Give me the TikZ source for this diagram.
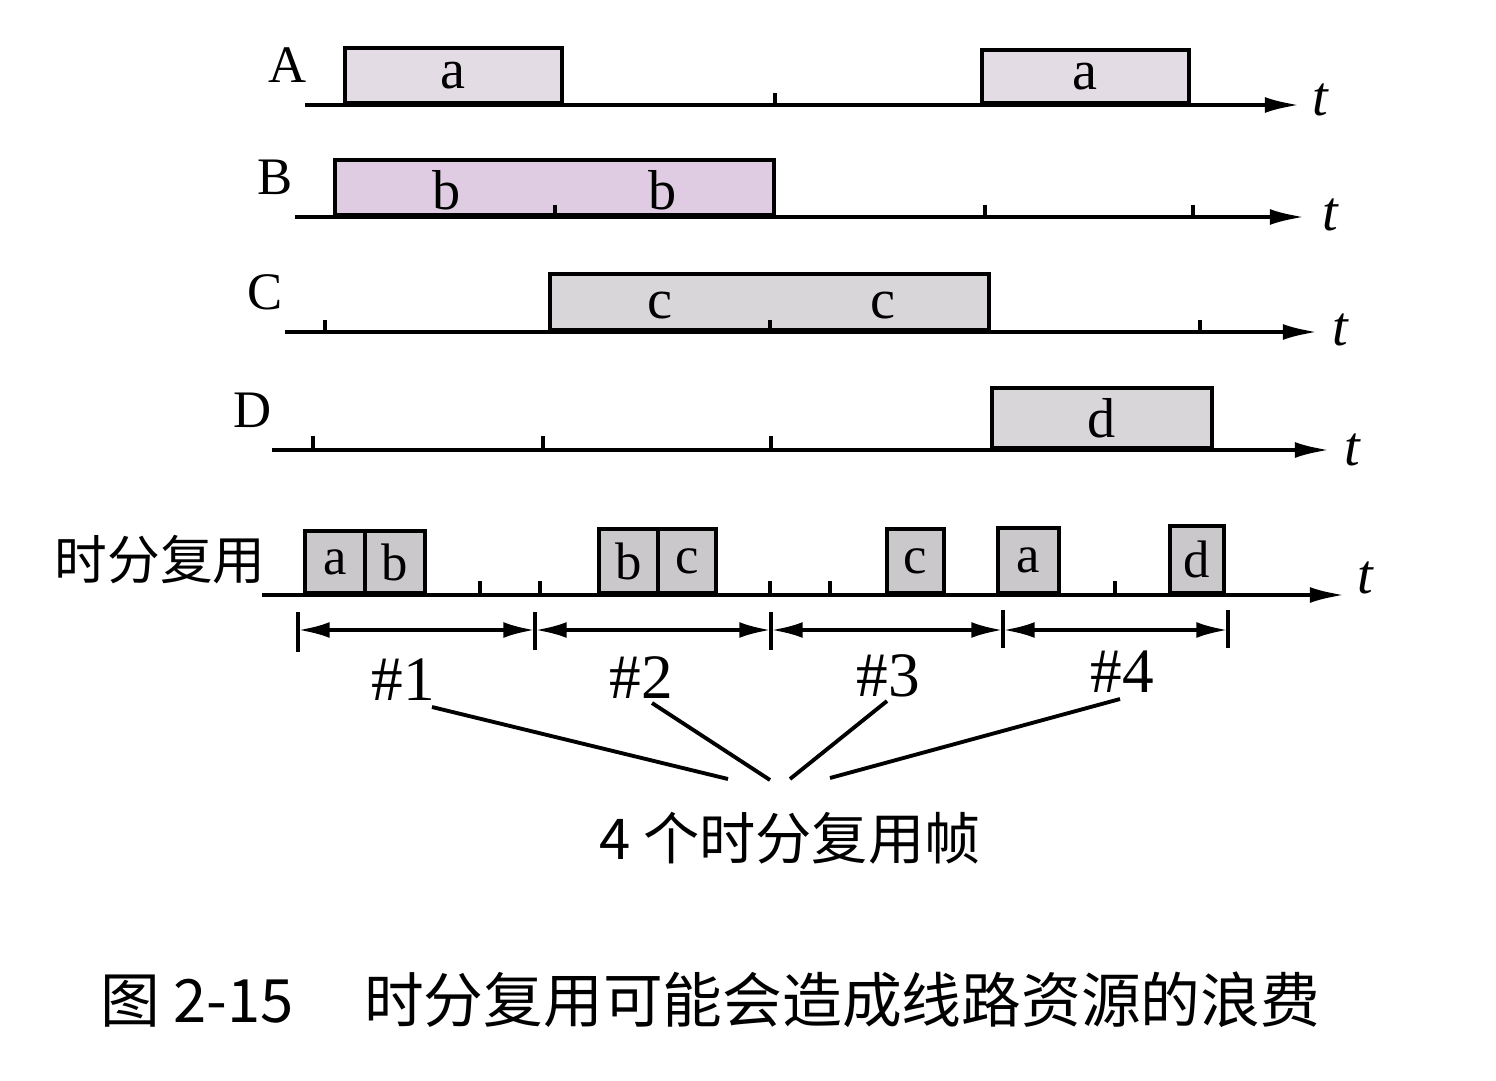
\documentclass[tikz,border=0pt]{standalone}
\usepackage{fontspec}
\setmainfont{Liberation Serif}
\newfontfamily\cjk{Noto Sans CJK SC}
\usetikzlibrary{arrows.meta}

\definecolor{slotpink}{RGB}{228,220,228}
\definecolor{slotlilac}{RGB}{224,204,226}
\definecolor{slotgray}{RGB}{216,214,216}
\definecolor{tdmgray}{RGB}{202,200,202}

\tikzset{
  timeaxis/.style={line width=1.2pt,-{Latex[length=10pt,width=4.5pt]}},
  tick/.style={line width=1pt},
  slot/.style={draw,line width=1pt,anchor=south west,inner sep=0pt,
    font=\fontsize{16}{16}\selectfont},
  tdmslot/.style={slot,fill=tdmgray,font=\fontsize{15}{15}\selectfont},
  chan/.style={font=\fontsize{15}{15}\selectfont},
  tlabel/.style={font=\fontsize{16}{16}\selectfont\itshape},
  span/.style={line width=1.1pt,{Latex[length=9pt,width=4.5pt]}-{Latex[length=9pt,width=4.5pt]}},
  framelab/.style={font=\fontsize{18}{18}\selectfont},
}

\begin{document}
\begin{tikzpicture}
\useasboundingbox (0,0) rectangle (14.96,-10.8);

% A
\node[chan] (A) at (2.88,-0.65) {A};
\coordinate (A0) at (3.05,-1.05);
\coordinate (A1) at (13.0,-1.05);
\node[slot,fill=slotpink,minimum width=2.17cm,minimum height=0.55cm] (a1) at (3.43,-1.05) {a};
\node[slot,fill=slotpink,minimum width=2.07cm,minimum height=0.53cm] (a2) at (9.80,-1.05) {a};
\draw[timeaxis] (A0) -- (A1);
\draw[tick] (7.75,-1.05) -- ++(0,0.12);
\node[tlabel] (tA) at (13.2,-1.0) {t};

% B
\node[chan] (B) at (2.75,-1.77) {B};
\coordinate (B0) at (2.95,-2.17);
\coordinate (B1) at (13.05,-2.17);
\node[slot,fill=slotlilac,minimum width=4.39cm,minimum height=0.55cm] (bbox) at (3.33,-2.17) {};
\node[font=\fontsize{16}{16}\selectfont] (b1) at (4.47,-1.90) {b};
\node[font=\fontsize{16}{16}\selectfont] (b2) at (6.63,-1.90) {b};
\draw[timeaxis] (B0) -- (B1);
\draw[tick] (5.55,-2.17) -- ++(0,0.12);
\draw[tick] (9.85,-2.17) -- ++(0,0.12);
\draw[tick] (11.93,-2.17) -- ++(0,0.12);
\node[tlabel] (tB) at (13.3,-2.15) {t};

% C
\node[chan] (C) at (2.65,-2.92) {C};
\coordinate (C0) at (2.85,-3.32);
\coordinate (C1) at (13.18,-3.32);
\node[slot,fill=slotgray,minimum width=4.39cm,minimum height=0.56cm] (cbox) at (5.48,-3.32) {};
\node[font=\fontsize{16}{16}\selectfont] (c1) at (6.60,-3.06) {c};
\node[font=\fontsize{16}{16}\selectfont] (c2) at (8.83,-3.06) {c};
\draw[timeaxis] (C0) -- (C1);
\draw[tick] (3.25,-3.32) -- ++(0,0.12);
\draw[tick] (7.70,-3.32) -- ++(0,0.12);
\draw[tick] (12.00,-3.32) -- ++(0,0.12);
\node[tlabel] (tC) at (13.4,-3.3) {t};

% D
\node[chan] (D) at (2.53,-4.10) {D};
\coordinate (D0) at (2.72,-4.50);
\coordinate (D1) at (13.30,-4.50);
\node[slot,fill=slotgray,minimum width=2.20cm,minimum height=0.60cm] (dbox) at (9.90,-4.50) {d};
\draw[timeaxis] (D0) -- (D1);
\draw[tick] (3.13,-4.50) -- ++(0,0.14);
\draw[tick] (5.43,-4.50) -- ++(0,0.14);
\draw[tick] (7.71,-4.50) -- ++(0,0.14);
\node[tlabel] (tD) at (13.52,-4.5) {t};

% time division multiplexing
\node[font=\cjk\fontsize{15}{15}\selectfont] (tdm) at (1.60,-5.60) {时分复用};
\coordinate (T0) at (2.62,-5.95);
\coordinate (T1) at (13.45,-5.95);
\node[tdmslot,minimum width=0.60cm,minimum height=0.62cm] (ta1) at (3.03,-5.95) {a};
\node[tdmslot,minimum width=0.60cm,minimum height=0.62cm] (tb1) at (3.63,-5.95) {b};
\node[tdmslot,minimum width=0.59cm,minimum height=0.64cm] (tb2) at (5.97,-5.95) {b};
\node[tdmslot,minimum width=0.58cm,minimum height=0.64cm] (tc1) at (6.56,-5.95) {c};
\node[tdmslot,minimum width=0.57cm,minimum height=0.64cm] (tc2) at (8.85,-5.95) {c};
\node[tdmslot,minimum width=0.61cm,minimum height=0.65cm] (ta2) at (9.96,-5.95) {a};
\node[tdmslot,minimum width=0.54cm,minimum height=0.67cm] (td1) at (11.68,-5.95) {d};
\draw[timeaxis] (T0) -- (T1);
\draw[tick] (4.80,-5.95) -- ++(0,0.14);
\draw[tick] (5.40,-5.95) -- ++(0,0.14);
\draw[tick] (7.70,-5.95) -- ++(0,0.14);
\draw[tick] (8.30,-5.95) -- ++(0,0.14);
\draw[tick] (11.15,-5.95) -- ++(0,0.14);
\node[tlabel] (tT) at (13.65,-5.78) {t};

% frames
\coordinate (f0) at (2.98,-6.30);
\coordinate (f1) at (5.35,-6.30);
\coordinate (f2) at (7.71,-6.30);
\coordinate (f3) at (10.03,-6.30);
\coordinate (f4) at (12.28,-6.30);
\draw[tick] (2.98,-6.12) -- (2.98,-6.52);
\draw[tick] (5.35,-6.12) -- (5.35,-6.50);
\draw[tick] (7.71,-6.12) -- (7.71,-6.50);
\draw[tick] (10.03,-6.10) -- (10.03,-6.48);
\draw[tick] (12.28,-6.10) -- (12.28,-6.48);
\draw[span] (f0) -- (f1);
\draw[span] (f1) -- (f2);
\draw[span] (f2) -- (f3);
\draw[span] (f3) -- (f4);

\node[framelab] (n1) at (4.03,-6.80) {\#1};
\node[framelab] (n2) at (6.41,-6.78) {\#2};
\node[framelab] (n3) at (8.88,-6.76) {\#3};
\node[framelab] (n4) at (11.22,-6.72) {\#4};

\coordinate (p1) at (4.32,-7.07);
\coordinate (p2) at (6.52,-7.03);
\coordinate (p3) at (8.87,-7.01);
\coordinate (p4) at (11.20,-6.99);
\coordinate (q1) at (7.28,-7.79);
\coordinate (q2) at (7.70,-7.80);
\coordinate (q3) at (7.90,-7.79);
\coordinate (q4) at (8.30,-7.78);
\draw[line width=1.1pt] (p1) -- (q1);
\draw[line width=1.1pt] (p2) -- (q2);
\draw[line width=1.1pt] (p3) -- (q3);
\draw[line width=1.1pt] (p4) -- (q4);

\node[font=\cjk\fontsize{16}{16}\selectfont] (frames) at (7.90,-8.38) {4 个时分复用帧};

% caption
\node[font=\cjk\fontsize{17}{17}\selectfont,anchor=west,inner sep=0pt] (cap) at (1.00,-10.00) {图 2-15\hspace{0.7cm}时分复用可能会造成线路资源的浪费};
\end{tikzpicture}
\end{document}
